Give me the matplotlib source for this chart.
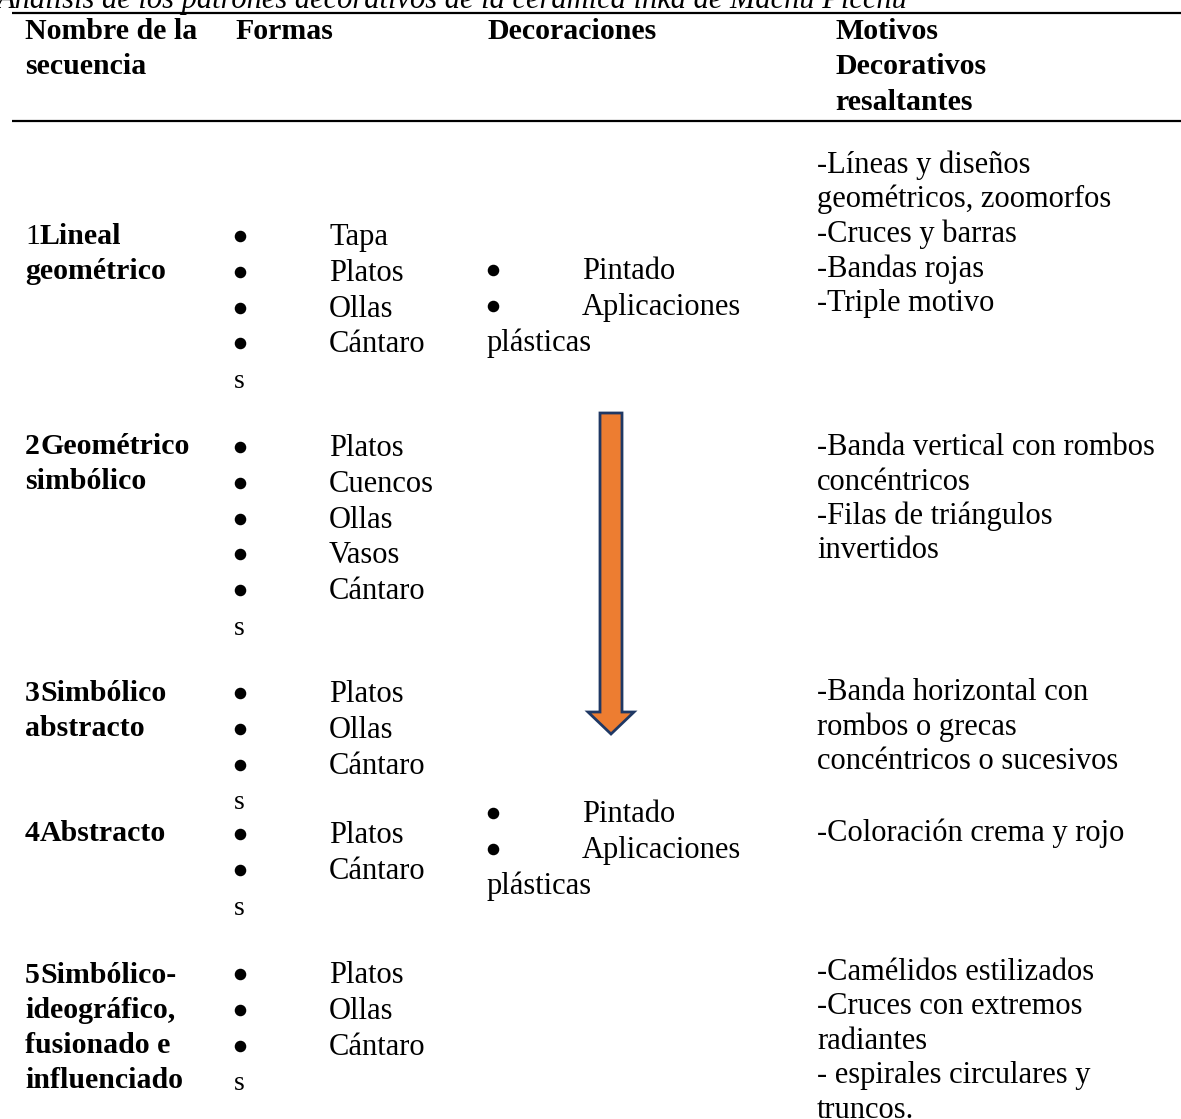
import matplotlib.pyplot as plt
from matplotlib.patches import Polygon

plt.rcParams['font.family'] = ['Liberation Serif', 'DejaVu Serif']

W, H = 1181, 1119
FS = 22

title = "Análisis de los patrones decorativos de la cerámica inka de Machu Picchu"
headers = ["Nombre de la\nsecuencia", "Formas", "Decoraciones", "Motivos\nDecorativos\nresaltantes"]

# sequence names (number + bold name)
seq_num = ["1", "2", "3", "4", "5"]
seq_name = [["Lineal", "geométrico"],
            ["Geométrico", "simbólico"],
            ["Simbólico", "abstracto"],
            ["Abstracto"],
            ["Simbólico-", "ideográfico,", "fusionado e", "influenciado"]]
seq_y = [236, 446, 693, 833, 975]

formas = [["Tapa", "Platos", "Ollas", "Cántaro"],
          ["Platos", "Cuencos", "Ollas", "Vasos", "Cántaro"],
          ["Platos", "Ollas", "Cántaro"],
          ["Platos", "Cántaro"],
          ["Platos", "Ollas", "Cántaro"]]
formas_y = [237, 448, 694, 835, 975]

decor = ["Pintado", "Aplicaciones"]
decor_y = [271, 814]

motivos = [["-Líneas y diseños", "geométricos, zoomorfos", "-Cruces y barras",
            "-Bandas rojas", "-Triple motivo"],
           ["-Banda vertical con rombos", "concéntricos", "-Filas de triángulos", "invertidos"],
           ["-Banda horizontal con", "rombos o grecas", "concéntricos o sucesivos"],
           ["-Coloración crema y rojo"],
           ["-Camélidos estilizados", "-Cruces con extremos", "radiantes",
            "- espirales circulares y", "truncos."]]
motivos_y = [165, 447, 692, 833, 972]

fig = plt.figure(figsize=(W / 100, H / 100), dpi=100)
ax = fig.add_axes([0, 0, 1, 1])
ax.set_xlim(0, W)
ax.set_ylim(H, 0)
ax.axis('off')

LS = 35.8   # line step in px
OFF = 8     # center -> baseline


def bullet(x, y):
    ax.plot(x, y - 1, marker='o', ms=7.3, color='black', mec='black')


ax.text(-3, 8, title, fontsize=FS, style='italic', va='baseline', ha='left')

# rules
ax.plot([12, W], [13, 13], color='black', lw=1.6, solid_capstyle='butt')
ax.plot([12, W], [121, 121], color='black', lw=1.6, solid_capstyle='butt')

# headers
hx = [25, 235, 487, 835]
for x, h in zip(hx, headers):
    for i, line in enumerate(h.split("\n")):
        ax.text(x, 31 + i * 35.5 + OFF, line, fontsize=21.5, fontweight='bold', va='baseline')

# column 1
for num, name, y in zip(seq_num, seq_name, seq_y):
    for i, line in enumerate(name):
        yy = y + i * 35 + OFF
        if i == 0:
            ax.text(25, yy, num, fontsize=21.5, fontweight='bold' if num != "1" else 'normal',
                    va='baseline')
            ax.text(25 + (14 if num == "1" else 15), yy, line, fontsize=21.5,
                    fontweight='bold', va='baseline')
        else:
            ax.text(25, yy, line, fontsize=21.5, fontweight='bold', va='baseline')

# column 2 (Formas)
for items, y in zip(formas, formas_y):
    for i, it in enumerate(items):
        yy = y + i * LS
        bullet(240, yy)
        ax.text(329, yy + OFF, it, fontsize=FS, va='baseline')
    ax.text(234, y + len(items) * LS + OFF, "s", fontsize=FS - 2, va='baseline')

# column 3 (Decoraciones)
for y in decor_y:
    bullet(493, y)
    ax.text(582, y + OFF, decor[0], fontsize=FS, va='baseline')
    bullet(493, y + LS)
    ax.text(582, y + LS + OFF, decor[1], fontsize=FS, va='baseline')
    ax.text(487, y + 2 * LS + OFF, "plásticas", fontsize=FS, va='baseline')

# column 4 (Motivos)
for items, y in zip(motivos, motivos_y):
    for i, it in enumerate(items):
        ax.text(817, y + i * 34.5 + OFF, it, fontsize=FS, va='baseline')

# arrow
cx, top, hb, tip, sw, hw = 611, 413, 712, 734, 11, 23
arrow = Polygon([(cx - sw, top), (cx + sw, top), (cx + sw, hb), (cx + hw, hb),
                 (cx, tip), (cx - hw, hb), (cx - sw, hb)], closed=True,
                facecolor='#ED7D31', edgecolor='#1F3864', lw=2)
ax.add_patch(arrow)

fig.savefig("out.png", dpi=100, facecolor='white')
